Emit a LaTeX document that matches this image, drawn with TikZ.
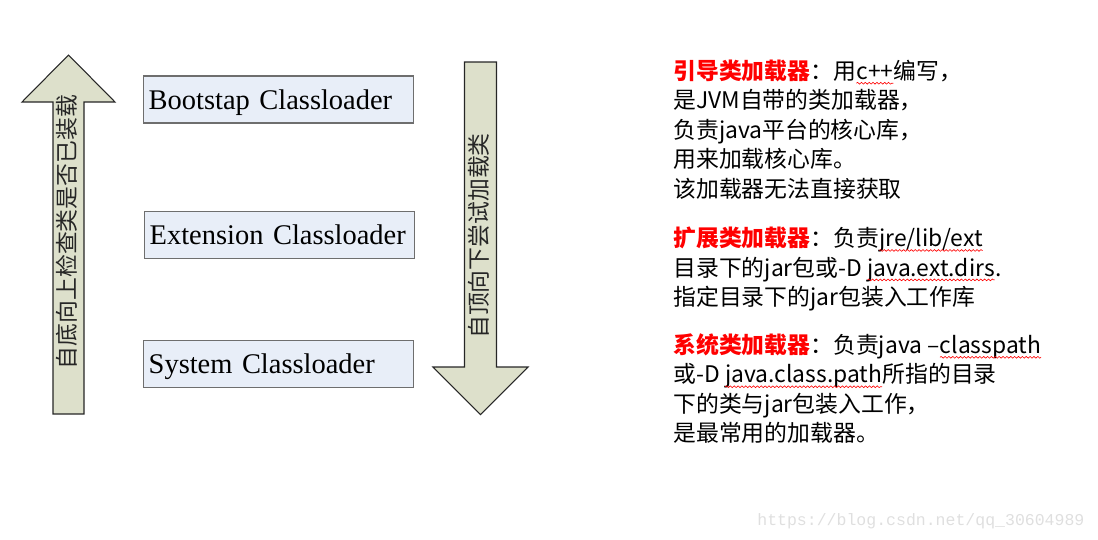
\documentclass[tikz,border=0pt]{standalone}
\usepackage{fontspec}
\setmainfont{Liberation Serif}
\newfontfamily\cjk{Noto Sans CJK SC}
\newfontfamily\urlfont{Liberation Mono}
\usetikzlibrary{positioning,decorations.pathmorphing}

\definecolor{arrowfill}{RGB}{221,224,203}
\definecolor{boxfill}{RGB}{232,238,248}
\definecolor{boxline}{RGB}{110,110,110}

% red wavy spell-check line under a word
\newcommand\spellmark[1]{\tikz[baseline=(sp.base)]{\node[inner sep=0pt,outer sep=0pt,text height={},text depth={}] (sp) {#1};\draw[red,line width=0.35pt,decorate,decoration={snake,amplitude=0.5pt,segment length=2.2pt}] ([yshift=-2.2pt]sp.base west) -- ([yshift=-2.2pt]sp.base east);}}

\begin{document}
\begin{tikzpicture}[x=0.02cm,y=-0.02cm,
    bigarrow/.style={draw=black!85,line width=0.6pt,fill=arrowfill},
    loader/.style={draw=boxline,fill=boxfill,line width=0.8pt,anchor=west,inner xsep=0.1cm,inner ysep=0pt,
      minimum height=0.94cm,text width=5.2cm,align=left,text height=0.44cm,text depth=0.06cm,
      font=\fontsize{16.2pt}{19pt}\selectfont},
    arrowtext/.style={rotate=90,inner sep=0pt,text=black!85,font=\cjk\fontsize{13pt}{15pt}\selectfont},
    note/.style={anchor=north west,inner sep=0pt,text height=0.42cm,text depth=0.155cm,
      font=\cjk\fontsize{13pt}{16pt}\selectfont}]
        \useasboundingbox (0,0) rectangle (1098,539);

        % the two big arrows
        \draw [bigarrow] (53,414) -- (53,102) -- (22,102) -- (68.5,55) -- (115,102) -- (84,102) -- (84,414) -- cycle;
        \draw [bigarrow] (464.5,62) -- (496.5,62) -- (496.5,367) -- (528,367) -- (480.5,414.5) -- (433,367) -- (464.5,367) -- cycle;
        \node (up)   [arrowtext] at (67,232) {自底向上检查类是否已装载};
        \node (down) [arrowtext] at (479,236) {自顶向下尝试加载类};

        % class loaders
        \node (boot) [loader] at (143,99.5) {Bootstap Classloader};
        \node (ext)  [loader] at (144,235)  {Extension Classloader};
        \node (sys)  [loader] at (143,364)  {System Classloader};

        % notes
        \node (b1) [note] at (673,58) {\textcolor{red}{\bfseries 引导类加载器}：用\spellmark{c++}编写，};
        \node (b2) [note,below=0pt of b1.south west,anchor=north west] {是JVM自带的类加载器，};
        \node (b3) [note,below=0pt of b2.south west,anchor=north west] {负责java平台的核心库，};
        \node (b4) [note,below=0pt of b3.south west,anchor=north west] {用来加载核心库。};
        \node (b5) [note,below=0pt of b4.south west,anchor=north west] {该加载器无法直接获取};

        \node (e1) [note,below=0.4cm of b5.south west,anchor=north west] {\textcolor{red}{\bfseries 扩展类加载器}：负责\spellmark{jre/lib/ext}};
        \node (e2) [note,below=0pt of e1.south west,anchor=north west] {目录下的jar包或-D \spellmark{java.ext.dirs}.};
        \node (e3) [note,below=0pt of e2.south west,anchor=north west] {指定目录下的jar包装入工作库};

        \node (s1) [note,below=0.37cm of e3.south west,anchor=north west] {\textcolor{red}{\bfseries 系统类加载器}：负责java –\spellmark{classpath}};
        \node (s2) [note,below=0pt of s1.south west,anchor=north west] {或-D \spellmark{java.class.path}所指的目录};
        \node (s3) [note,below=0pt of s2.south west,anchor=north west] {下的类与jar包装入工作，};
        \node (s4) [note,below=0pt of s3.south west,anchor=north west] {是最常用的加载器。};

        \node (blog) [anchor=base west,inner sep=0pt,text=gray!25,font=\urlfont\fontsize{9.4pt}{11pt}\selectfont] at (757,525) {https://blog.csdn.net/qq\_30604989};
\end{tikzpicture}
\end{document}
